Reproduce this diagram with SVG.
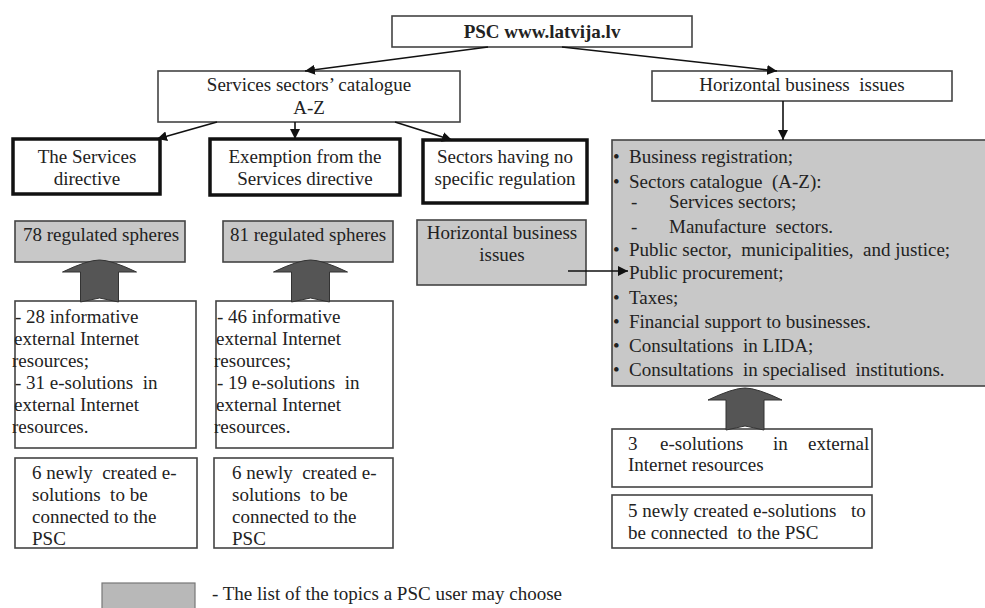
<svg xmlns="http://www.w3.org/2000/svg" width="985" height="608" viewBox="0 0 985 608">
<defs>
<style>
text{font-family:"Liberation Serif","Times New Roman",serif;font-size:19px;fill:#222;white-space:pre}
.c{text-anchor:middle}
.b{font-weight:bold}
.box{fill:#fff;stroke:#444;stroke-width:1.6}
.gray{fill:#c8c8c8;stroke:#444;stroke-width:1.6}
.bold{fill:#fff;stroke:#111;stroke-width:3.5}
.ln{fill:none;stroke:#111;stroke-width:1.6}
.blk{fill:#555;stroke:#333;stroke-width:1}
</style>
<marker id="ah" viewBox="0 0 10 10" refX="10" refY="5" markerWidth="10" markerHeight="10" markerUnits="userSpaceOnUse" orient="auto">
<path d="M0,0 L10,5 L0,10 z" fill="#111"/>
</marker>
<path id="up" d="M-37,12 Q-12,0 0,0 Q12,0 37,12 L19,12 L19,42 L0,38 L-19,42 L-19,12 Z"/>
</defs>
<rect width="985" height="608" fill="#fff"/>

<g id="psc"><rect class="box" x="392" y="16" width="300" height="31"/><text class="c b" x="542" y="38">PSC www.latvija.lv</text></g>
<g id="catalogue"><rect class="box" x="158" y="71" width="302" height="51"/><text class="c" x="309" y="91">Services sectors’ catalogue</text><text class="c" x="309" y="114">A-Z</text></g>
<g id="horizontal"><rect class="box" x="652" y="71" width="300" height="30"/><text class="c" x="802" y="91">Horizontal business  issues</text></g>

<g id="services-directive"><rect class="bold" x="13" y="139" width="147" height="55"/><text class="c" x="87" y="163">The Services</text><text class="c" x="87" y="185">directive</text></g>
<g id="exemption"><rect class="bold" x="210" y="139" width="190" height="56"/><text class="c" x="305" y="163">Exemption from the</text><text class="c" x="305" y="185">Services directive</text></g>
<g id="no-regulation"><rect class="bold" x="423" y="140" width="164" height="63"/><text class="c" x="505" y="163">Sectors having no</text><text class="c" x="505" y="185">specific regulation</text></g>

<g id="spheres78"><rect class="gray" x="15" y="221" width="170" height="41"/><text class="c" x="101" y="241">78 regulated spheres</text></g>
<g id="spheres81"><rect class="gray" x="223" y="221" width="170" height="41"/><text class="c" x="308" y="241">81 regulated spheres</text></g>
<g id="horizontal-small"><rect class="gray" x="417" y="220" width="169" height="65"/><text class="c" x="502" y="239">Horizontal business</text><text class="c" x="502" y="261">issues</text></g>

<g id="topics"><rect class="gray" x="612" y="140" width="380" height="246"/>
<text y="163"><tspan x="613">•</tspan><tspan x="629">Business registration;</tspan></text>
<text y="188"><tspan x="613">•</tspan><tspan x="629">Sectors catalogue  (A-Z):</tspan></text>
<text y="208"><tspan x="631">-</tspan><tspan x="669">Services sectors;</tspan></text>
<text y="233"><tspan x="631">-</tspan><tspan x="669">Manufacture  sectors.</tspan></text>
<text y="256"><tspan x="613">•</tspan><tspan x="629">Public sector,  municipalities,  and justice;</tspan></text>
<text x="629" y="279">Public procurement;</text>
<text y="304"><tspan x="613">•</tspan><tspan x="629">Taxes;</tspan></text>
<text y="328"><tspan x="613">•</tspan><tspan x="629">Financial support to businesses.</tspan></text>
<text y="352"><tspan x="613">•</tspan><tspan x="629">Consultations  in LIDA;</tspan></text>
<text y="376"><tspan x="613">•</tspan><tspan x="629">Consultations  in specialised  institutions.</tspan></text>
</g>

<g id="resources1"><rect class="box" x="15" y="301" width="181" height="147"/>
<text x="15" y="323">- 28 informative</text><text x="14" y="345">external Internet</text><text x="12" y="367">resources;</text>
<text x="15" y="389">- 31 e-solutions  in</text><text x="14" y="411">external Internet</text><text x="12" y="433">resources.</text></g>
<g id="resources2"><rect class="box" x="216" y="301" width="177" height="147"/>
<text x="217" y="323">- 46 informative</text><text x="216" y="345">external Internet</text><text x="214" y="367">resources;</text>
<text x="217" y="389">- 19 e-solutions  in</text><text x="216" y="411">external Internet</text><text x="214" y="433">resources.</text></g>

<g id="new1"><rect class="box" x="15" y="458" width="182" height="90"/>
<text x="32" y="479">6 newly  created e-</text><text x="32" y="501">solutions  to be</text><text x="32" y="523">connected to the</text><text x="32" y="545">PSC</text></g>
<g id="new2"><rect class="box" x="214" y="458" width="179" height="90"/>
<text x="232" y="479">6 newly  created e-</text><text x="232" y="501">solutions  to be</text><text x="232" y="523">connected to the</text><text x="232" y="545">PSC</text></g>

<g id="esolutions3"><rect class="box" x="612" y="429" width="260" height="58"/>
<text y="450"><tspan x="628">3</tspan><tspan x="660">e-solutions</tspan><tspan x="773">in</tspan><tspan x="808">external</tspan></text><text x="628" y="471">Internet resources</text></g>
<g id="new5"><rect class="box" x="612" y="495" width="260" height="53"/>
<text y="517"><tspan x="628">5 newly created e-solutions</tspan><tspan x="851">to</tspan></text><text x="628" y="539">be connected  to the PSC</text></g>

<g id="legend"><rect x="102" y="583" width="93" height="30" fill="#b8b8b8" stroke="#777" stroke-width="1.2"/><text x="212" y="600">- The list of the topics a PSC user may choose</text></g>

<g id="connectors">
<line class="ln" x1="488" y1="47" x2="305" y2="71" marker-end="url(#ah)"/>
<line class="ln" x1="562" y1="47" x2="777" y2="71" marker-end="url(#ah)"/>
<line class="ln" x1="217" y1="122" x2="157" y2="139" marker-end="url(#ah)"/>
<line class="ln" x1="295" y1="122" x2="295" y2="139" marker-end="url(#ah)"/>
<line class="ln" x1="395" y1="122" x2="452" y2="140" marker-end="url(#ah)"/>
<line class="ln" x1="783" y1="101" x2="783" y2="140" marker-end="url(#ah)"/>
<line class="ln" x1="568" y1="271" x2="628" y2="271" marker-end="url(#ah)"/>
<use href="#up" class="blk" x="99.5" y="260"/>
<use href="#up" class="blk" x="310.5" y="260"/>
<use href="#up" class="blk" x="745" y="388"/>
</g>
</svg>
